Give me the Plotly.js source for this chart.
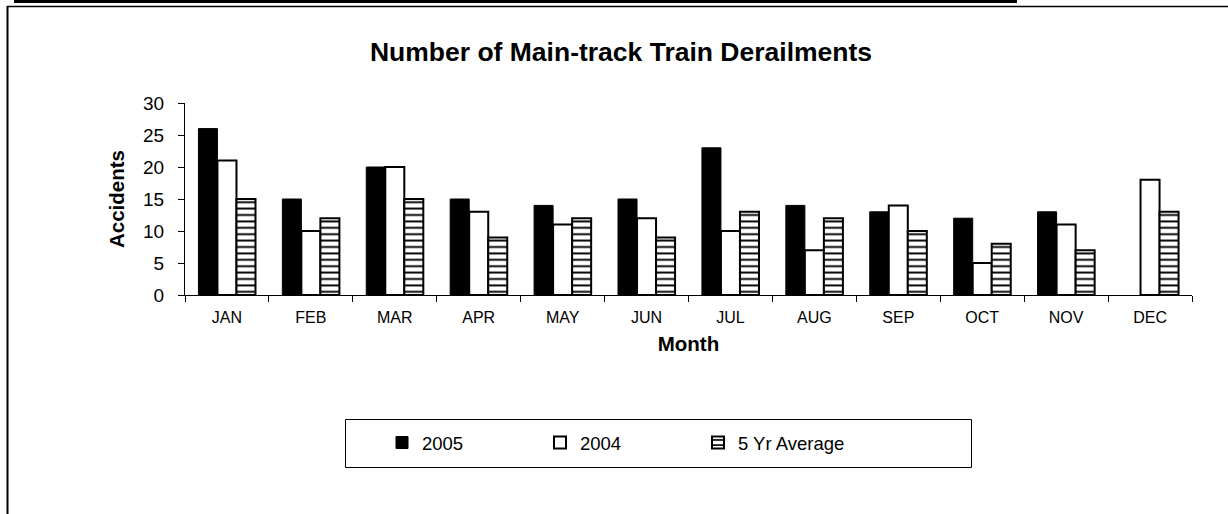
<!DOCTYPE html>
<html>
<head>
<meta charset="utf-8">
<script src="https://cdn.plot.ly/plotly-3.0.1.min.js"></script>
<style>
  html, body { margin: 0; padding: 0; background: #fff; }
  #chart { width: 1228px; height: 514px; }
</style>
</head>
<body>
<div id="chart"></div>
<script>
const months = ["JAN","FEB","MAR","APR","MAY","JUN","JUL","AUG","SEP","OCT","NOV","DEC"];
const y2005 = [26, 15, 20, 15, 14, 15, 23, 14, 13, 12, 13, null];
const y2004 = [21, 10, 20, 13, 11, 12, 10, 7, 14, 5, 11, 18];
const avg5  = [15, 12, 15, 9, 12, 9, 13, 12, 10, 8, 7, 13];
const seriesNames = ["2005", "2004", "5 Yr Average"];

const W = 1228, H = 514;
const M = {l: 185, r: 36, t: 103, b: 219};
const PW = W - M.l - M.r, PH = H - M.t - M.b;
const px = x => (x - M.l) / PW;
const py = y => (H - M.b - y) / PH;

const font = "Arial, 'Liberation Sans', sans-serif";

const traces = [
  {
    type: "bar", name: seriesNames[0], x: months, y: y2005,
    marker: {color: "#000000", line: {color: "#000000", width: 1}}
  },
  {
    type: "bar", name: seriesNames[1], x: months, y: y2004,
    marker: {color: "#ffffff", line: {color: "#000000", width: 2}}
  },
  {
    type: "bar", name: seriesNames[2], x: months, y: avg5,
    marker: {
      color: "#ffffff",
      line: {color: "#000000", width: 2},
      pattern: {shape: "-", fgcolor: "#000000", bgcolor: "#ffffff", size: 6.4, solidity: 0.3}
    }
  }
];

const layout = {
  width: W, height: H,
  margin: M,
  paper_bgcolor: "#ffffff", plot_bgcolor: "#ffffff",
  font: {family: font, color: "#000000"},
  barmode: "group", bargap: 0.32, bargroupgap: 0,
  showlegend: true,
  title: {
    text: "<b>Number of Main-track Train Derailments</b>",
    font: {family: font, size: 26.5, color: "#000"},
    x: 621 / W, xanchor: "center", xref: "container",
    y: 1 - 52 / H, yanchor: "middle", yref: "container"
  },
  xaxis: {
    type: "category",
    showline: true, linecolor: "#000", linewidth: 1,
    ticks: "outside", tickson: "boundaries", ticklen: 6, tickcolor: "#000",
    tickfont: {size: 16, family: font},
    ticklabelstandoff: 8,
    showgrid: false, zeroline: false,
    title: {text: "<b>Month</b>", font: {size: 20.5, family: font}, standoff: 11}
  },
  yaxis: {
    range: [0, 30], dtick: 5, tick0: 0,
    showline: true, linecolor: "#000", linewidth: 1,
    ticks: "outside", ticklen: 6, tickcolor: "#000",
    tickfont: {size: 19, family: font},
    ticklabelstandoff: 10,
    showgrid: false, zeroline: false,
    title: {text: "<b>Accidents</b>", font: {size: 20.5, family: font}, standoff: 12}
  },
  legend: {
    orientation: "h",
    x: px(382), xanchor: "left",
    y: py(443), yanchor: "middle",
    borderwidth: 0, bgcolor: "rgba(0,0,0,0)",
    font: {size: 18.5, family: font},
    entrywidth: 113,
    itemwidth: 30,
    traceorder: "normal"
  },
  shapes: [
    {type: "line", xref: "paper", yref: "paper", x0: px(14), x1: px(1017), y0: py(1.5), y1: py(1.5), line: {color: "#000", width: 3}},
    {type: "line", xref: "paper", yref: "paper", x0: px(7), x1: px(1228), y0: py(6.5), y1: py(6.5), line: {color: "#000", width: 1.5}},
    {type: "line", xref: "paper", yref: "paper", x0: px(7.5), x1: px(7.5), y0: py(6), y1: py(514), line: {color: "#000", width: 2}},
    {type: "rect", xref: "paper", yref: "paper", x0: px(345.5), x1: px(971.5), y0: py(419.5), y1: py(467.5), line: {color: "#000", width: 1}, fillcolor: "rgba(0,0,0,0)", layer: "below"}
  ]
};

Plotly.newPlot("chart", traces, layout, {displayModeBar: false, staticPlot: true});
</script>
</body>
</html>
